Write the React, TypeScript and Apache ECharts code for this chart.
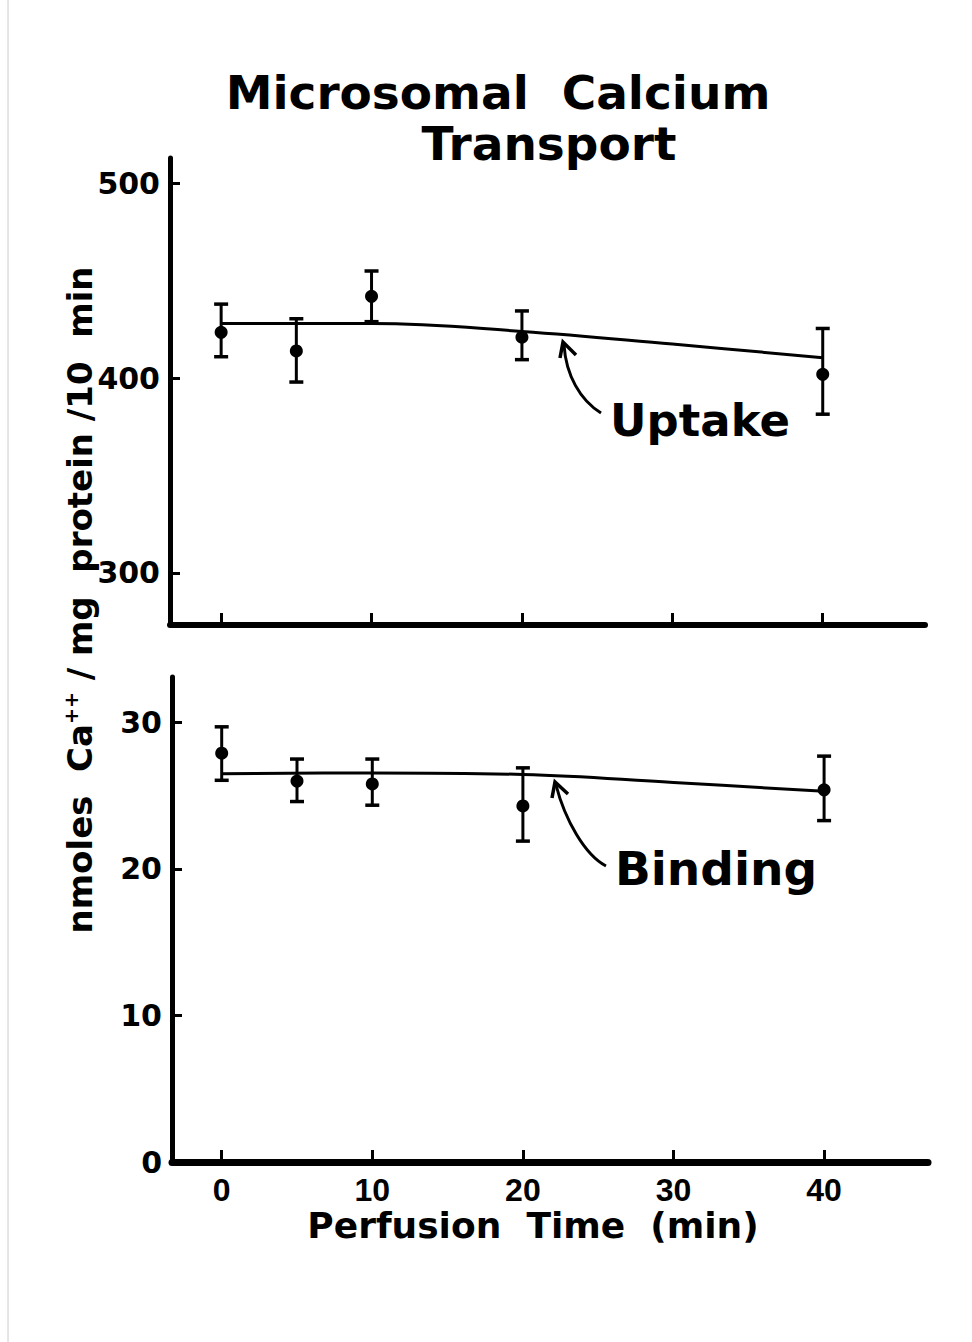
import React, { useEffect, useRef } from 'react';
import * as echarts from 'echarts';

// Perfusion time (min) of the measured points
const timeMin = [0, 5, 10, 20, 40];
// Uptake (nmoles Ca++/mg protein/10 min)
const uptakeMean = [423.5, 414, 442, 421, 402];
const uptakeHigh = [438, 430.5, 455, 434.5, 425.5];
const uptakeLow = [411, 398, 429, 409.5, 381.5];
// Binding
const bindingMean = [27.9, 26.0, 25.8, 24.3, 25.4];
const bindingHigh = [29.7, 27.5, 27.5, 26.9, 27.7];
const bindingLow = [26.05, 24.6, 24.35, 21.9, 23.3];
// Fitted curves
const fitTime = [0, 10, 20, 30, 40];
const uptakeFit = [428, 428, 424, 417.5, 410.5];
const bindingFit = [26.5, 26.55, 26.45, 25.9, 25.3];
// Tick labels
const xTicks = [0, 10, 20, 30, 40];
const uptakeTicks = [300, 400, 500];
const bindingTicks = [0, 10, 20, 30];

const FONT = '"DejaVu Sans", sans-serif';

function errRender(params: any, api: any) {
  const x = api.value(0);
  const hi = api.value(1);
  const lo = api.value(2);
  const pHi = api.coord([x, hi]);
  const pLo = api.coord([x, lo]);
  const w = 7;
  const style = { stroke: '#000', lineWidth: 3, fill: 'none' };
  const cap = { stroke: '#000', lineWidth: 3.5, fill: 'none' };
  return {
    type: 'group',
    children: [
      { type: 'line', shape: { x1: pHi[0], y1: pHi[1], x2: pLo[0], y2: pLo[1] }, style },
      { type: 'line', shape: { x1: pHi[0] - w, y1: pHi[1], x2: pHi[0] + w, y2: pHi[1] }, style: cap },
      { type: 'line', shape: { x1: pLo[0] - w, y1: pLo[1], x2: pLo[0] + w, y2: pLo[1] }, style: cap },
    ],
  };
}

export default function App() {
  const ref = useRef<HTMLDivElement>(null);
  useEffect(() => {
    document.body.style.margin = '0';
    const chart = echarts.init(ref.current!, null, { renderer: 'svg' });
    const axisLineStyle = (w: number) => ({ show: true, onZero: false, lineStyle: { color: '#000', width: w } });
    const yLabel = (vals: number[]) => ({
      show: true,
      customValues: vals,
      color: '#000',
      fontFamily: FONT,
      fontWeight: 'bold',
      fontSize: 30,
      margin: 10,
    });
    const option: any = {
      animation: false,
      backgroundColor: '#fff',
      grid: [
        { left: 170, top: 158, width: 755, height: 467 },
        { left: 172, top: 677, width: 756, height: 485 },
      ],
      xAxis: [
        {
          type: 'value', gridIndex: 0, min: -3.4, max: 46.8,
          axisLine: axisLineStyle(6),
          axisTick: { show: true, inside: true, length: 12, customValues: xTicks, lineStyle: { color: '#000', width: 3 } },
          axisLabel: { show: false },
          splitLine: { show: false },
        },
        {
          type: 'value', gridIndex: 1, min: -3.3, max: 46.9,
          axisLine: axisLineStyle(7),
          axisTick: { show: true, inside: true, length: 12, customValues: xTicks, lineStyle: { color: '#000', width: 3 } },
          axisLabel: {
            show: true, customValues: xTicks, color: '#000',
            fontFamily: '"Liberation Sans", Arial, sans-serif', fontWeight: 'bold', fontSize: 32, margin: 12,
          },
          splitLine: { show: false },
        },
      ],
      yAxis: [
        {
          type: 'value', gridIndex: 0, min: 273.3, max: 513,
          axisLine: axisLineStyle(5),
          axisTick: { show: true, inside: true, length: 10, customValues: uptakeTicks, lineStyle: { color: '#000', width: 3 } },
          axisLabel: yLabel(uptakeTicks),
          splitLine: { show: false },
        },
        {
          type: 'value', gridIndex: 1, min: 0, max: 33.1,
          axisLine: axisLineStyle(5),
          axisTick: { show: true, inside: true, length: 10, customValues: bindingTicks, lineStyle: { color: '#000', width: 3 } },
          axisLabel: yLabel(bindingTicks),
          splitLine: { show: false },
        },
      ],
      series: [
        {
          type: 'line', xAxisIndex: 0, yAxisIndex: 0, smooth: 0.4, showSymbol: false,
          lineStyle: { color: '#000', width: 3 },
          data: fitTime.map((t, i) => [t, uptakeFit[i]]),
        },
        {
          type: 'custom', xAxisIndex: 0, yAxisIndex: 0, renderItem: errRender,
          data: timeMin.map((t, i) => [t, uptakeHigh[i], uptakeLow[i]]),
        },
        {
          type: 'scatter', xAxisIndex: 0, yAxisIndex: 0, symbolSize: 13,
          itemStyle: { color: '#000', opacity: 1 },
          data: timeMin.map((t, i) => [t, uptakeMean[i]]),
        },
        {
          type: 'line', xAxisIndex: 1, yAxisIndex: 1, smooth: 0.4, showSymbol: false,
          lineStyle: { color: '#000', width: 3 },
          data: fitTime.map((t, i) => [t, bindingFit[i]]),
        },
        {
          type: 'custom', xAxisIndex: 1, yAxisIndex: 1, renderItem: errRender,
          data: timeMin.map((t, i) => [t, bindingHigh[i], bindingLow[i]]),
        },
        {
          type: 'scatter', xAxisIndex: 1, yAxisIndex: 1, symbolSize: 13,
          itemStyle: { color: '#000', opacity: 1 },
          data: timeMin.map((t, i) => [t, bindingMean[i]]),
        },
      ],
      graphic: [
        { type: 'line', shape: { x1: 8, y1: 0, x2: 8, y2: 1342 }, style: { stroke: '#ccc', lineWidth: 1 } },
        {
          type: 'text', x: 498, y: 92,
          style: { text: 'Microsomal  Calcium', font: `bold 47px ${FONT}`, fill: '#000', align: 'center', verticalAlign: 'middle' },
        },
        {
          type: 'text', x: 549, y: 143,
          style: { text: 'Transport', font: `bold 47px ${FONT}`, fill: '#000', align: 'center', verticalAlign: 'middle' },
        },
        {
          type: 'text', x: 80, y: 600, rotation: Math.PI / 2,
          style: {
            text: 'nmoles  Ca{sup|++} / mg  protein /10  min',
            font: `bold 34px ${FONT}`, fill: '#000', align: 'center', verticalAlign: 'middle',
            rich: { sup: { fontSize: 19, fontWeight: 'bold', fontFamily: FONT, fill: '#000', padding: [0, 0, 18, 0] } },
          },
        },
        {
          type: 'text', x: 533, y: 1225,
          style: { text: 'Perfusion  Time  (min)', font: `bold 36px ${FONT}`, fill: '#000', align: 'center', verticalAlign: 'middle' },
        },
        {
          type: 'text', x: 700, y: 420,
          style: { text: 'Uptake', font: `bold 45px ${FONT}`, fill: '#000', align: 'center', verticalAlign: 'middle' },
        },
        {
          type: 'text', x: 716, y: 868,
          style: { text: 'Binding', font: `bold 47px ${FONT}`, fill: '#000', align: 'center', verticalAlign: 'middle' },
        },
        {
          type: 'bezierCurve',
          shape: { x1: 601, y1: 413, cpx1: 580, cpy1: 400, cpx2: 566, cpy2: 375, x2: 564, y2: 345 },
          style: { stroke: '#000', lineWidth: 3, fill: 'none' },
        },
        {
          type: 'polyline', shape: { points: [[560, 358], [563, 342], [576, 355]] },
          style: { stroke: '#000', lineWidth: 3.5, fill: 'none' },
        },
        {
          type: 'bezierCurve',
          shape: { x1: 606, y1: 866, cpx1: 585, cpy1: 855, cpx2: 565, cpy2: 820, x2: 556, y2: 785 },
          style: { stroke: '#000', lineWidth: 3, fill: 'none' },
        },
        {
          type: 'polyline', shape: { points: [[552, 798], [555, 782], [568, 794]] },
          style: { stroke: '#000', lineWidth: 3.5, fill: 'none' },
        },
      ],
    };
    chart.setOption(option);
    return () => chart.dispose();
  }, []);
  return <div ref={ref} style={{ position: 'absolute', left: 0, top: 0, width: 972, height: 1342 }} />;
}
